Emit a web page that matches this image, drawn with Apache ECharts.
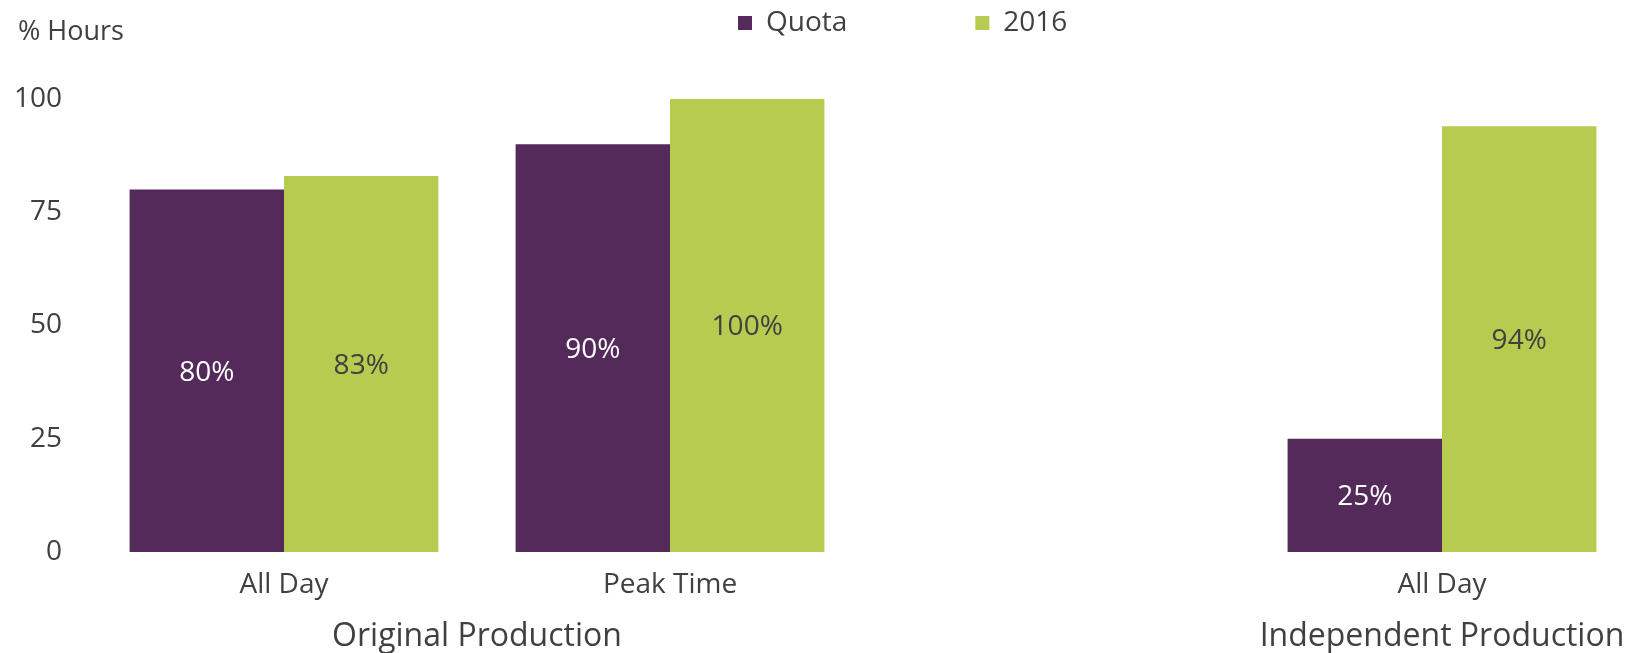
<!DOCTYPE html>
<html>
<head>
<meta charset="utf-8">
<script src="https://cdn.jsdelivr.net/npm/echarts@6/dist/echarts.min.js"></script>
<style>
  html, body { margin: 0; padding: 0; background: #fff; }
  #chart { width: 1631px; height: 653px; }
</style>
</head>
<body>
<div id="chart"></div>
<script>
// categories along the axis (third slot is the empty spacer)
const categories = ['All Day', 'Peak Time', '', 'All Day'];
const quotaValues = [80, 90, null, 25];
const values2016 = [83, 100, null, 94];
const yTicks = [0, 25, 50, 75, 100];
// group labels and the axis position they sit at
const groupNames = ['Original Production', 'Independent Production'];
const groupAt = [0.5, 3];

const textColor = '#404040';
const font = 'Open Sans';

const chart = echarts.init(document.getElementById('chart'));

const option = {
  animation: false,
  title: {
    text: '% Hours',
    left: 13,
    top: 14,
    textStyle: { fontFamily: font, fontSize: 27, fontWeight: 'normal', color: textColor }
  },
  legend: {
    left: 738,
    top: 9,
    padding: 0,
    icon: 'rect',
    itemWidth: 14,
    itemHeight: 14,
    itemGap: 128,
    textStyle: { fontFamily: font, fontSize: 28, color: textColor, padding: [0, 0, 0, 9] },
    data: ['Quota', '2016']
  },
  grid: { left: 91, width: 1544, top: 99, bottom: 101, outerBoundsMode: 'none' },
  xAxis: [
    {
      type: 'category',
      data: categories,
      axisLine: { show: false },
      axisTick: { show: false },
      axisLabel: { fontFamily: font, fontSize: 28, color: textColor, margin: 19 }
    },
    {
      type: 'value',
      position: 'bottom',
      min: -0.5,
      max: 3.5,
      interval: 0.5,
      offset: 54,
      axisLine: { show: false },
      axisTick: { show: false },
      splitLine: { show: false },
      axisLabel: {
        fontFamily: font, fontSize: 32, color: textColor, margin: 15,
        formatter: v => {
          const i = groupAt.indexOf(v);
          return i >= 0 ? groupNames[i] : '';
        }
      }
    }
  ],
  yAxis: {
    type: 'value',
    min: yTicks[0],
    max: yTicks[yTicks.length - 1],
    interval: 25,
    axisLine: { show: false },
    axisTick: { show: false },
    splitLine: { show: false },
    axisLabel: { fontFamily: font, fontSize: 28, color: textColor, margin: 29 }
  },
  series: [
    {
      name: 'Quota',
      type: 'bar',
      data: quotaValues,
      barGap: 0,
      barCategoryGap: '20%',
      itemStyle: { color: '#532A5A' },
      label: {
        show: true, position: 'inside', formatter: '{c}%',
        fontFamily: font, fontSize: 28, color: '#ffffff', offset: [0, 2]
      }
    },
    {
      name: '2016',
      type: 'bar',
      data: values2016,
      barGap: 0,
      barCategoryGap: '20%',
      itemStyle: { color: '#B8CB51' },
      label: {
        show: true, position: 'inside', formatter: '{c}%',
        fontFamily: font, fontSize: 28, color: textColor, offset: [0, 2]
      }
    }
  ]
};

chart.setOption(option);
</script>
</body>
</html>
